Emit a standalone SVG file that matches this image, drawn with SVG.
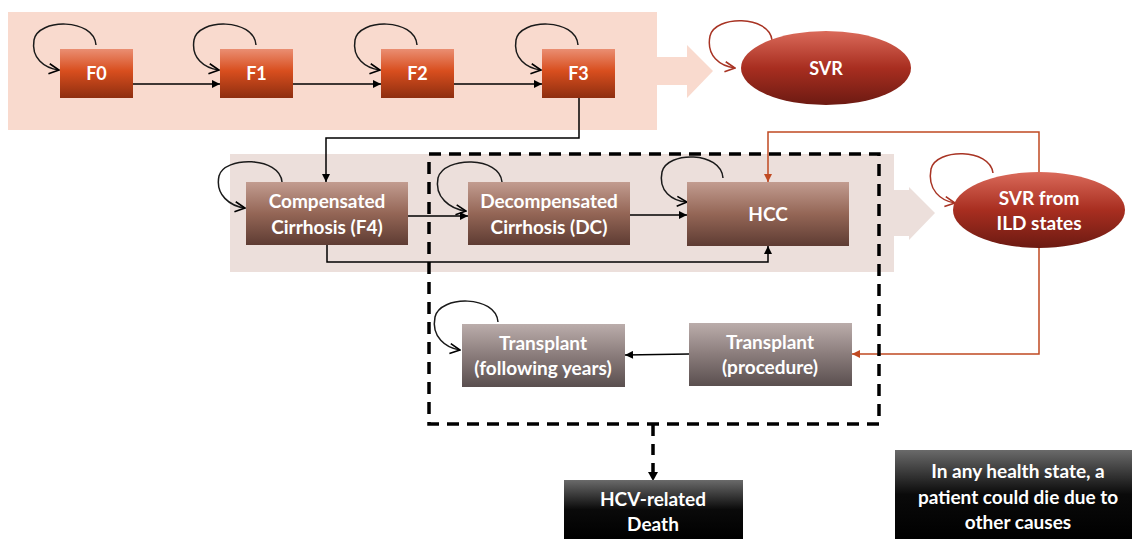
<svg xmlns="http://www.w3.org/2000/svg" width="1132" height="539" viewBox="0 0 1132 539">
<defs>
<linearGradient id="gF" x1="0" y1="0" x2="0" y2="1"><stop offset="0" stop-color="#ea8e72"/><stop offset="0.45" stop-color="#d84e1e"/><stop offset="1" stop-color="#8e2e10"/></linearGradient>
<linearGradient id="gC" x1="0" y1="0" x2="0" y2="1"><stop offset="0" stop-color="#c29c90"/><stop offset="0.5" stop-color="#946656"/><stop offset="1" stop-color="#5e3c33"/></linearGradient>
<linearGradient id="gT" x1="0" y1="0" x2="0" y2="1"><stop offset="0" stop-color="#bbadab"/><stop offset="0.5" stop-color="#8a7c7b"/><stop offset="1" stop-color="#5a4f4f"/></linearGradient>
<linearGradient id="gR" x1="0" y1="0" x2="0" y2="1"><stop offset="0" stop-color="#da6a5a"/><stop offset="0.5" stop-color="#a82e20"/><stop offset="1" stop-color="#6c1a12"/></linearGradient>
<linearGradient id="gK" x1="0" y1="0" x2="0" y2="1"><stop offset="0" stop-color="#6a6a6a"/><stop offset="0.5" stop-color="#0a0a0a"/><stop offset="1" stop-color="#000"/></linearGradient>
<marker id="aK" viewBox="0 0 10 10" refX="10" refY="5" markerWidth="9" markerHeight="8" markerUnits="userSpaceOnUse" orient="auto"><path d="M0,0 L10,5 L0,10 z" fill="#000"/></marker>
<marker id="aR" viewBox="0 0 10 10" refX="10" refY="5" markerWidth="9" markerHeight="8" markerUnits="userSpaceOnUse" orient="auto"><path d="M0,0 L10,5 L0,10 z" fill="#c04a22"/></marker>
<marker id="vK" viewBox="0 0 12 12" refX="11" refY="6" markerWidth="12" markerHeight="12" markerUnits="userSpaceOnUse" orient="auto"><path d="M1,1 L11,6 L1,11" fill="none" stroke="#000" stroke-width="1.6"/></marker>
<marker id="vR" viewBox="0 0 12 12" refX="11" refY="6" markerWidth="12" markerHeight="12" markerUnits="userSpaceOnUse" orient="auto"><path d="M1,1 L11,6 L1,11" fill="none" stroke="#a83424" stroke-width="1.6"/></marker>
</defs>
<style>
text{font-family:Lato,"Open Sans","Liberation Sans",sans-serif;font-weight:bold;fill:#fff;text-anchor:middle;}
.f{font-size:18px;}
.m{font-size:19px;}
.ln{fill:none;stroke:#000;stroke-width:1.5;}
.lr{fill:none;stroke:#c04a22;stroke-width:1.5;}
.lp{fill:none;stroke:#1a1a1a;stroke-width:1.5;marker-end:url(#vK);}
.lpr{fill:none;stroke:#a83424;stroke-width:1.5;marker-end:url(#vR);}
</style>
<g id="backgrounds">
<rect x="8" y="12" width="649" height="118" fill="#f9dace"/>
<path d="M655,57 L687,57 L687,45 L713,71 L687,98 L687,85 L655,85 z" fill="#f9dace"/>
<rect x="230" y="154" width="664" height="118" fill="#ecdfdb"/>
<path d="M892,190 L909,190 L909,187 L935,213 L909,240 L909,236 L892,236 z" fill="#ecdfdb"/>
</g>
<g id="connectors">
<path class="ln" d="M133,84 L220,84" marker-end="url(#aK)"/>
<path class="ln" d="M293,84 L381,84" marker-end="url(#aK)"/>
<path class="ln" d="M454,84 L542,84" marker-end="url(#aK)"/>
<path class="ln" d="M579,98 L579,138 L326,138 L326,182" marker-end="url(#aK)"/>
<path class="ln" d="M408,216 L468,216" marker-end="url(#aK)"/>
<path class="ln" d="M630,215 L687,215" marker-end="url(#aK)"/>
<path class="ln" d="M327,245 L327,262 L768,262 L768,246" marker-end="url(#aK)"/>
<path class="ln" d="M689,354 L625,355" marker-end="url(#aK)"/>
<path class="lr" d="M1039,190 L1039,132 L768,132 L768,182" marker-end="url(#aR)"/>
<path class="lr" d="M1039,230 L1039,354 L852,354" marker-end="url(#aR)"/>
<path class="lp" d="M96,45 C94,18 38,18 34,40 C31,58 44,68 59,70"/>
<path class="lp" d="M256,45 C254,18 198,18 194,40 C191,58 204,68 219,70"/>
<path class="lp" d="M417,45 C415,18 359,18 355,40 C352,58 365,68 380,70"/>
<path class="lp" d="M578,45 C576,18 520,18 516,40 C513,58 526,68 541,70"/>
<path class="lp" d="M282,182 C280,156 224,156 219,176 C215,195 230,206 245,208"/>
<path class="lp" d="M502,182 C500,156 444,156 438,178 C434,197 450,209 466,211"/>
<path class="lp" d="M723,178 C721,151 667,151 662,172 C658,191 672,201 687,202"/>
<path class="lp" d="M498,322 C496,295 440,295 435,317 C431,337 446,348 460,350"/>
<path class="lpr" d="M772,40 C769,15 715,15 710,36 C706,56 720,66 735,68"/>
<path class="lpr" d="M993,173 C990,148 936,148 931,169 C927,190 941,201 955,203"/>
<path d="M653,425 L653,480" fill="none" stroke="#000" stroke-width="3.5" stroke-dasharray="11 8" />
<path d="M648,472 L658,472 L653,481 z" fill="#000"/>
</g>
<g id="dashed-box">
<rect x="429" y="154" width="450" height="270" fill="none" stroke="#000" stroke-width="3.5" stroke-dasharray="12 8"/>
</g>
<g id="F0"><rect x="60" y="49" width="73" height="49" fill="url(#gF)"/><text class="f" x="96.5" y="80">F0</text></g>
<g id="F1"><rect x="220" y="49" width="73" height="49" fill="url(#gF)"/><text class="f" x="256.5" y="80">F1</text></g>
<g id="F2"><rect x="381" y="49" width="73" height="49" fill="url(#gF)"/><text class="f" x="417.5" y="80">F2</text></g>
<g id="F3"><rect x="542" y="49" width="73" height="49" fill="url(#gF)"/><text class="f" x="578.5" y="80">F3</text></g>
<g id="SVR"><ellipse cx="826" cy="68" rx="85" ry="37" fill="url(#gR)"/><text class="f" x="826" y="75">SVR</text></g>
<g id="compensated"><rect x="246" y="182" width="162" height="63" fill="url(#gC)"/><text class="m" x="327" y="208">Compensated</text><text class="m" x="327" y="234">Cirrhosis (F4)</text></g>
<g id="decompensated"><rect x="468" y="182" width="162" height="63" fill="url(#gC)"/><text class="m" x="549" y="208">Decompensated</text><text class="m" x="549" y="234">Cirrhosis (DC)</text></g>
<g id="HCC"><rect x="687" y="182" width="162" height="64" fill="url(#gC)"/><text class="m" x="768" y="221">HCC</text></g>
<g id="SVR-ILD"><ellipse cx="1039" cy="210" rx="86" ry="38" fill="url(#gR)"/><text class="m" x="1039" y="205">SVR from</text><text class="m" x="1039" y="230">ILD states</text></g>
<g id="transplant-following"><rect x="462" y="324" width="163" height="63" fill="url(#gT)"/><text class="m" x="543" y="350">Transplant</text><text class="m" x="543" y="375">(following years)</text></g>
<g id="transplant-procedure"><rect x="689" y="323" width="163" height="63" fill="url(#gT)"/><text class="m" x="770" y="349">Transplant</text><text class="m" x="770" y="374">(procedure)</text></g>
<g id="hcv-death"><rect x="564" y="480" width="179" height="59" fill="url(#gK)"/><text class="m" x="653" y="506">HCV-related</text><text class="m" x="653" y="531">Death</text></g>
<g id="other-causes"><rect x="895" y="450" width="237" height="89" fill="url(#gK)"/><text class="m" x="1018" y="478">In any health state, a</text><text class="m" x="1018" y="504">patient could die due to</text><text class="m" x="1018" y="529">other causes</text></g>
</svg>
